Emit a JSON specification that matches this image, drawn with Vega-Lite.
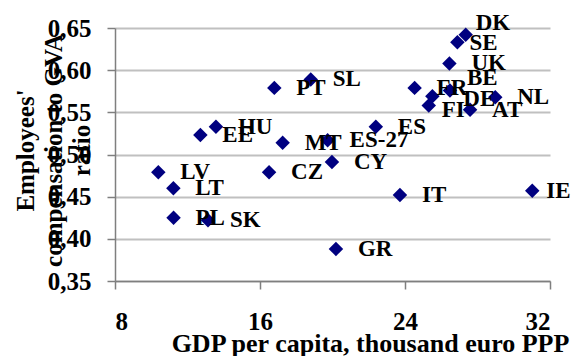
{
  "$schema": "https://vega.github.io/schema/vega-lite/v6.json",
  "autosize": "none",
  "width": 435,
  "height": 253,
  "padding": {"left": 115, "top": 28, "right": 21, "bottom": 75},
  "background": "white",
  "config": {
    "view": {"stroke": null},
    "font": "Liberation Serif",
    "axis": {
      "labelFont": "Liberation Serif",
      "labelFontWeight": "bold",
      "labelFontSize": 25,
      "labelColor": "black",
      "titleFont": "Liberation Serif",
      "titleFontWeight": "bold",
      "titleFontSize": 25,
      "titleColor": "black",
      "domainColor": "#7f7f7f",
      "domainWidth": 1.5,
      "tickColor": "#7f7f7f",
      "tickWidth": 1.5,
      "tickSize": 8,
      "gridColor": "#c0c0c0",
      "gridWidth": 2
    }
  },
  "data": {
    "values": [
      {"country": "LV", "gdp": 10.39, "ratio": 0.479},
      {"country": "LT", "gdp": 11.22, "ratio": 0.460},
      {"country": "PL", "gdp": 11.23, "ratio": 0.425},
      {"country": "SK", "gdp": 13.13, "ratio": 0.422},
      {"country": "EE", "gdp": 12.71, "ratio": 0.523},
      {"country": "HU", "gdp": 13.57, "ratio": 0.533},
      {"country": "CZ", "gdp": 16.50, "ratio": 0.479},
      {"country": "PT", "gdp": 16.79, "ratio": 0.579},
      {"country": "SL", "gdp": 18.80, "ratio": 0.589},
      {"country": "MT", "gdp": 17.25, "ratio": 0.514},
      {"country": "ES-27", "gdp": 19.73, "ratio": 0.517},
      {"country": "CY", "gdp": 19.97, "ratio": 0.491},
      {"country": "GR", "gdp": 20.19, "ratio": 0.388},
      {"country": "ES", "gdp": 22.39, "ratio": 0.533},
      {"country": "IT", "gdp": 23.72, "ratio": 0.452},
      {"country": "IE", "gdp": 31.02, "ratio": 0.457},
      {"country": "FR", "gdp": 24.53, "ratio": 0.579},
      {"country": "DE", "gdp": 25.51, "ratio": 0.569},
      {"country": "BE", "gdp": 26.48, "ratio": 0.576},
      {"country": "FI", "gdp": 25.31, "ratio": 0.558},
      {"country": "AT", "gdp": 27.59, "ratio": 0.553},
      {"country": "NL", "gdp": 28.98, "ratio": 0.568},
      {"country": "UK", "gdp": 26.45, "ratio": 0.608},
      {"country": "SE", "gdp": 26.89, "ratio": 0.633},
      {"country": "DK", "gdp": 27.35, "ratio": 0.642}
    ]
  },
  "encoding": {
    "x": {
      "field": "gdp",
      "type": "quantitative",
      "scale": {"domain": [8, 32], "nice": false, "zero": false},
      "axis": {
        "values": [8, 16, 24, 32],
        "grid": false,
        "labelPadding": 20,
        "title": "GDP per capita, thousand euro PPP",
        "titleFontSize": 26,
        "titleX": 255,
        "titleY": 70,
        "titleAlign": "center",
        "titleBaseline": "alphabetic"
      }
    },
    "y": {
      "field": "ratio",
      "type": "quantitative",
      "scale": {"domain": [0.35, 0.65], "nice": false, "zero": false},
      "axis": {
        "values": [0.35, 0.4, 0.45, 0.5, 0.55, 0.6, 0.65],
        "grid": true,
        "labelPadding": 16,
        "labelExpr": "replace(format(datum.value, '.2f'), '.', ',')",
        "title": ["Employees'", "compensation to GVA", "ratio"],
        "titleAngle": 270,
        "titleX": -82,
        "titleY": 122,
        "titleAlign": "center",
        "titleBaseline": "alphabetic",
        "titleLineHeight": 28
      }
    }
  },
  "layer": [
    {
      "mark": {"type": "point", "shape": "diamond", "filled": true, "color": "#000080", "size": 210, "opacity": 1, "strokeWidth": 0}
    },
    {
      "transform": [{"filter": "indexof(['DK','SE','BE','DE','FI','IE'], datum.country) < 0"}],
      "mark": {"type": "text", "align": "left", "baseline": "middle", "dx": 22, "font": "Liberation Serif", "fontWeight": "bold", "fontSize": 23, "color": "black"},
      "encoding": {"text": {"field": "country"}}
    },
    {
      "transform": [{"filter": "datum.country == 'DK'"}],
      "mark": {"type": "text", "align": "left", "baseline": "middle", "dx": 10, "dy": -12, "font": "Liberation Serif", "fontWeight": "bold", "fontSize": 23, "color": "black"},
      "encoding": {"text": {"field": "country"}}
    },
    {
      "transform": [{"filter": "datum.country == 'SE'"}],
      "mark": {"type": "text", "align": "left", "baseline": "middle", "dx": 12, "dy": 1, "font": "Liberation Serif", "fontWeight": "bold", "fontSize": 23, "color": "black"},
      "encoding": {"text": {"field": "country"}}
    },
    {
      "transform": [{"filter": "datum.country == 'BE'"}],
      "mark": {"type": "text", "align": "left", "baseline": "middle", "dx": 17, "dy": -12, "font": "Liberation Serif", "fontWeight": "bold", "fontSize": 23, "color": "black"},
      "encoding": {"text": {"field": "country"}}
    },
    {
      "transform": [{"filter": "datum.country == 'DE'"}],
      "mark": {"type": "text", "align": "left", "baseline": "middle", "dx": 31, "dy": 3, "font": "Liberation Serif", "fontWeight": "bold", "fontSize": 23, "color": "black"},
      "encoding": {"text": {"field": "country"}}
    },
    {
      "transform": [{"filter": "datum.country == 'FI'"}],
      "mark": {"type": "text", "align": "left", "baseline": "middle", "dx": 13, "dy": 4, "font": "Liberation Serif", "fontWeight": "bold", "fontSize": 23, "color": "black"},
      "encoding": {"text": {"field": "country"}}
    },
    {
      "transform": [{"filter": "datum.country == 'IE'"}],
      "mark": {"type": "text", "align": "left", "baseline": "middle", "dx": 14, "dy": 0, "font": "Liberation Serif", "fontWeight": "bold", "fontSize": 23, "color": "black"},
      "encoding": {"text": {"field": "country"}}
    }
  ]
}
